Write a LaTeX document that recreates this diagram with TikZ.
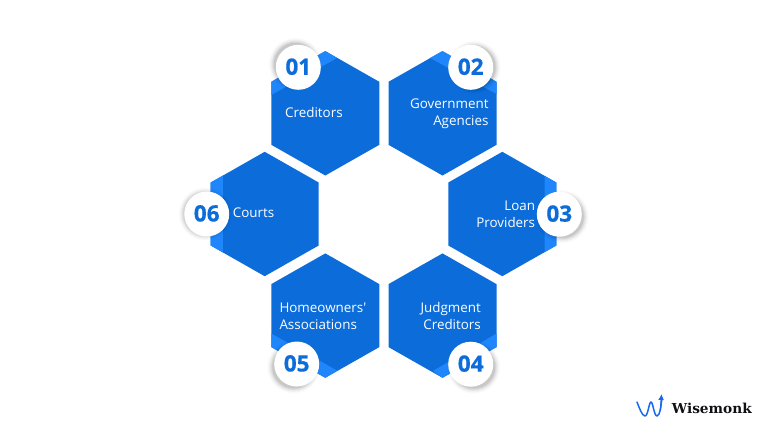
\documentclass[tikz,border=0pt]{standalone}
\usepackage{fontspec}
\newfontfamily\labelfont{Open Sans}
\newfontfamily\numfont[FakeBold=0.6]{Open Sans Bold}
\newfontfamily\logofont{DejaVu Serif Bold}
\usetikzlibrary{arrows.meta}
\definecolor{hexdark}{HTML}{0B6CDA}
\definecolor{hexlight}{HTML}{1F87FB}
\definecolor{inkdark}{HTML}{101014}
\definecolor{logoblue}{HTML}{1668F0}
\tikzset{
  hexfill/.style={fill=hexdark,draw=none},
  bandfill/.style={fill=hexlight,draw=none},
  label/.style={text=white,font=\labelfont\fontsize{13.4}{16.6}\selectfont,inner sep=0pt},
  num/.style={text=hexdark,font=\numfont\fontsize{22.5}{22.5}\selectfont,inner sep=0pt},
  badge/.style={fill=white,draw=none},
}
% hexagon: centre x, centre y
\newcommand{\hexa}[2]{\fill[hexfill] (#1,#2-62.2) -- (#1+54,#2-31.5) -- (#1+54,#2+31.5) -- (#1,#2+62.2) -- (#1-54,#2+31.5) -- (#1-54,#2-31.5) -- cycle;}
% badge: x, y, shadow dx, dy, name, text
\newcommand{\badgeat}[6]{
  \foreach \r/\o in {26.5/.015,25.5/.02,24.5/.03,23.5/.04,22.5/.05,21.5/.07}{\fill[black,opacity=\o] (#1+#3,#2+#4) circle (\r);}
  \fill[badge] (#1,#2) circle (22.5);
  \node[num] (#5) at (#1,#2-0.6) {#6};
}
\begin{document}
\begin{tikzpicture}[x=1pt,y=-1pt]
\useasboundingbox (0,0) rectangle (768,432);
\fill[white] (0,0) rectangle (768,432);
% hexagons
\hexa{325.3}{113.3}
\hexa{442.5}{113.3}
\hexa{502.3}{214}
\hexa{442.5}{315.6}
\hexa{325.3}{315.6}
\hexa{264.7}{214}
% lighter bands
\fill[bandfill] (271.3,81.8) -- (325.3,51.1) -- (337,58) -- (271.3,95) -- cycle;
\fill[bandfill] (442.5,51.1) -- (496.5,81.8) -- (496.5,94) -- (430,58) -- cycle;
\fill[bandfill] (544.7,175.9) -- (556.3,182.5) -- (556.3,245.5) -- (544.7,252.1) -- cycle;
\fill[bandfill] (210.7,182.5) -- (222.8,175.6) -- (222.8,252.4) -- (210.7,245.5) -- cycle;
\fill[bandfill] (271.3,333.5) -- (337,370.5) -- (325.3,377.8) -- (271.3,347.1) -- cycle;
\fill[bandfill] (496.5,333.5) -- (496.5,347.1) -- (442.5,377.8) -- (433,371) -- cycle;
% badges
\badgeat{298.3}{67.3}{-3}{-3}{n1}{01}
\badgeat{470.7}{67.3}{3.5}{0}{n2}{02}
\badgeat{559.3}{214.2}{3}{2.5}{n3}{03}
\badgeat{470.7}{364.2}{3}{3}{n4}{04}
\badgeat{296.7}{364}{-3}{3}{n5}{05}
\badgeat{206.7}{214}{-1.5}{0}{n6}{06}
% labels
\node[label,anchor=west] (t1) at (285,112) {Creditors};
\node[label,anchor=east,align=right] (t2) at (488.7,113.6) {Government\\Agencies};
\node[label,anchor=east,align=right] (t3) at (535.3,214.2) {Loan\\Providers};
\node[label,anchor=east,align=right] (t4) at (481,315.8) {Judgment\\Creditors};
\node[label,anchor=west,align=left] (t5) at (279.3,316) {Homeowners'\\Associations};
\node[label,anchor=west] (t6) at (232.7,212.6) {Courts};
% logo
\draw[logoblue,line width=1.5pt,line join=round,line cap=round]
  (637,402) .. controls (639,407) and (642,416) .. (645,416) .. controls (648,416) and (649,402) .. (651,402) .. controls (653,402) and (654,416) .. (657,416) .. controls (660,416) and (661,405) .. (662,398);
\draw[logoblue,line width=1.2pt,-{Latex[length=6pt,width=6pt]}] (660.5,410) -- (661.5,394);
\node[text=inkdark,font=\logofont\fontsize{13.7}{13.7}\selectfont,inner sep=0pt,anchor=west] (logo) at (671.7,408.5) {Wisemonk};
\end{tikzpicture}
\end{document}
